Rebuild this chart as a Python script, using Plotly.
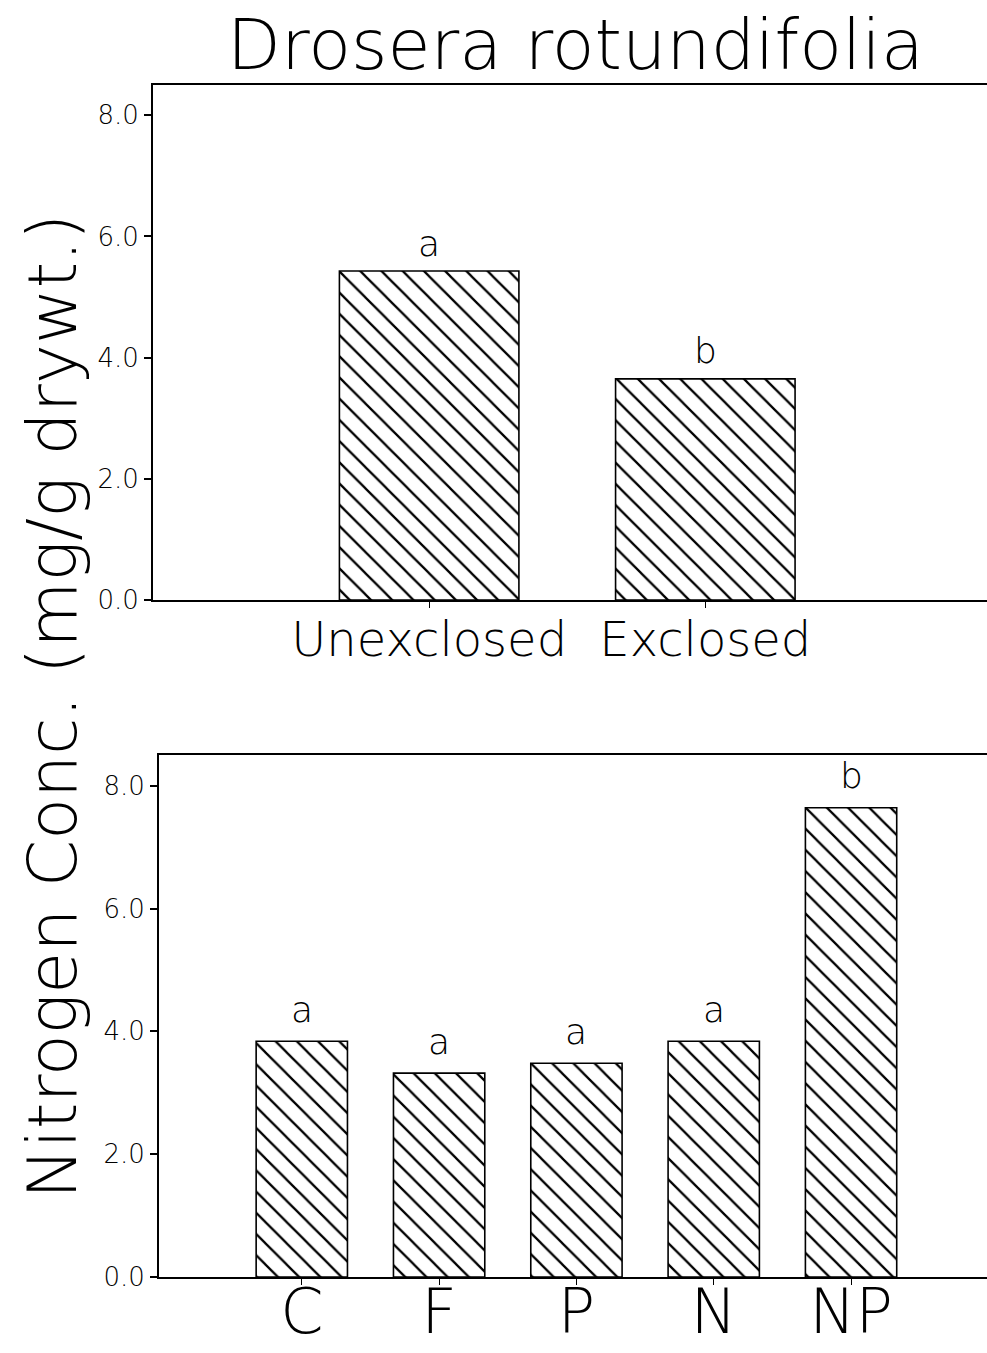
import plotly.graph_objects as go

# ---- data -------------------------------------------------------------
title_text = "Drosera rotundifolia"
y_title = "Nitrogen Conc. (mg/g drywt.)"

site_labels = ["Unexclosed", "Exclosed"]
site_values = [5.43, 3.65]
site_letters = ["a", "b"]

trt_labels = ["C", "F", "P", "N", "NP"]
trt_values = [3.84, 3.32, 3.48, 3.84, 7.64]
trt_letters = ["a", "a", "a", "a", "b"]

y_ticks = [0, 2, 4, 6, 8]
y_ticktext = ["0.0", "2.0", "4.0", "6.0", "8.0"]

# ---- style ------------------------------------------------------------
FONT = "'DejaVu Sans', Lato, sans-serif"
LIGHT = 200
W, H = 987, 1353

hatch = dict(shape="\\", size=15, solidity=0.15, fgcolor="black", bgcolor="white", fgopacity=1)

fig = go.Figure()

fig.add_trace(go.Bar(
    x=site_labels, y=site_values, width=0.65,
    marker=dict(color="white", pattern=hatch, line=dict(color="black", width=1.6)),
    xaxis="x", yaxis="y", showlegend=False,
))
fig.add_trace(go.Bar(
    x=trt_labels, y=trt_values, width=0.665,
    marker=dict(color="white", pattern=hatch, line=dict(color="black", width=1.6)),
    xaxis="x2", yaxis="y2", showlegend=False,
))

# significance letters above each bar
for lab, val, let in zip(site_labels, site_values, site_letters):
    fig.add_annotation(x=lab, y=val, text=let, xref="x", yref="y",
                       showarrow=False, yshift=28, yanchor="middle",
                       font=dict(family=FONT, size=36, color="black", weight=LIGHT))
for lab, val, let in zip(trt_labels, trt_values, trt_letters):
    fig.add_annotation(x=lab, y=val, text=let, xref="x2", yref="y2",
                       showarrow=False, yshift=32, yanchor="middle",
                       font=dict(family=FONT, size=36, color="black", weight=LIGHT))

# title and shared y title
fig.add_annotation(x=575 / W, y=1 - 45 / H, xref="paper", yref="paper",
                   text=title_text, showarrow=False, xanchor="center", yanchor="middle",
                   font=dict(family=FONT, size=70, color="black", weight=LIGHT))
fig.add_annotation(x=52 / W, y=1 - 707 / H, xref="paper", yref="paper",
                   text=y_title, showarrow=False, textangle=-90,
                   xanchor="center", yanchor="middle",
                   font=dict(family=FONT, size=68, color="black", weight=LIGHT))

top_dom = [1 - 600 / H, 1 - 85 / H]
bot_dom = [1 - 1277 / H, 1 - 755 / H]
top_x = [153 / W, 1]
bot_x = [159 / W, 1]

common_y = dict(range=[0, 8.5], tickvals=y_ticks, ticktext=y_ticktext,
                ticks="outside", ticklen=7, tickwidth=1.6, tickcolor="black",
                showline=True, linecolor="black", linewidth=1.8, mirror=False,
                showgrid=False, zeroline=False, automargin=False,
                tickfont=dict(family=FONT, size=26, color="black", weight=LIGHT))

fig.update_layout(
    width=W, height=H,
    margin=dict(l=0, r=0, t=0, b=0),
    paper_bgcolor="white", plot_bgcolor="white",
    barmode="overlay",
    xaxis=dict(domain=top_x, anchor="y", range=[-1, 2.02],
               ticks="outside", ticklen=6, tickwidth=1.4, tickcolor="black",
               showline=True, linecolor="black", linewidth=2, mirror=True,
               showgrid=False, automargin=False, ticklabelstandoff=-10,
               tickfont=dict(family=FONT, size=48, color="black", weight=LIGHT)),
    yaxis=dict(domain=top_dom, anchor="x", **common_y),
    xaxis2=dict(domain=bot_x, anchor="y2", range=[-1.04, 4.99],
                ticks="outside", ticklen=6, tickwidth=1.4, tickcolor="black",
                showline=True, linecolor="black", linewidth=2, mirror=True,
                showgrid=False, automargin=False, ticklabelstandoff=-26,
                tickfont=dict(family=FONT, size=62, color="black", weight=LIGHT)),
    yaxis2=dict(domain=bot_dom, anchor="x2", **common_y),
    # inner halves of the crossing tick marks
    xaxis3=dict(overlaying="x", matches="x", anchor="y", ticks="inside", ticklen=6,
                tickwidth=1.4, tickcolor="black", showticklabels=False,
                showline=False, showgrid=False, range=[-1, 2.02]),
    yaxis3=dict(overlaying="y", matches="y", anchor="x", ticks="inside", ticklen=7,
                tickwidth=1.6, tickcolor="black", showticklabels=False,
                tickvals=y_ticks, showline=False, showgrid=False, range=[0, 8.5]),
    xaxis4=dict(overlaying="x2", matches="x2", anchor="y2", ticks="inside", ticklen=6,
                tickwidth=1.4, tickcolor="black", showticklabels=False,
                showline=False, showgrid=False, range=[-1.04, 4.99]),
    yaxis4=dict(overlaying="y2", matches="y2", anchor="x2", ticks="inside", ticklen=7,
                tickwidth=1.6, tickcolor="black", showticklabels=False,
                tickvals=y_ticks, showline=False, showgrid=False, range=[0, 8.5]),
)

fig.write_html("out.html")
